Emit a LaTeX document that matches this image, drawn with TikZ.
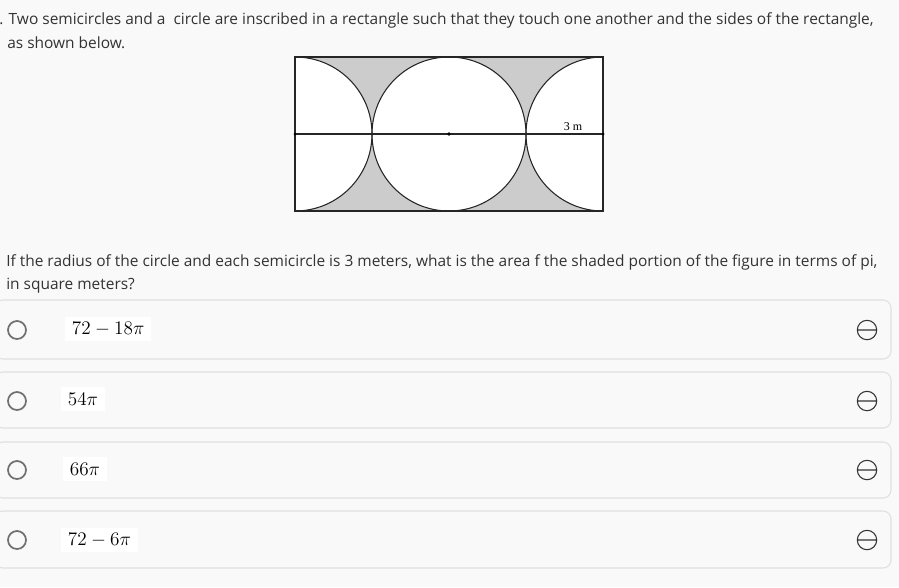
\documentclass[tikz,border=0pt]{standalone}
\usepackage{fontspec}
\setmainfont{Open Sans}
\newfontfamily\figfont{Liberation Serif}
\usetikzlibrary{positioning}
\definecolor{pagebg}{HTML}{F9F9F9}
\definecolor{inktext}{HTML}{333333}
\definecolor{areagray}{HTML}{CCCCCC}
\definecolor{boxline}{HTML}{E0E0E0}
\definecolor{radioline}{HTML}{707070}
\tikzset{
x=0.75pt, y=-0.75pt,
every node/.style={text=inktext},
question/.style={anchor=base west, inner sep=0pt, font=\fontsize{11.6}{14}\selectfont},
optbox/.style={draw=boxline, fill=pagebg, rounded corners=6pt, line width=0.8pt},
radio/.style={circle, draw=radioline, line width=1.3pt, minimum size=13.5pt, inner sep=0pt},
answer/.style={fill=white, anchor=west, inner xsep=5pt, inner ysep=4pt, text=black, font=\fontsize{15.5}{17}\selectfont},
minusbar/.style={draw=inktext, line width=0.8pt},
figline/.style={line width=0.8pt, draw=black!85},
}

\begin{document}
\begin{tikzpicture}

    \fill[pagebg] (0,0) rectangle (899,587);
    \useasboundingbox (0,0) rectangle (899,587);

    % question text
    \node[question] (q1) at (-1,24) {. Two semicircles and a\ \ circle are inscribed in a rectangle such that they touch one another and the sides of the rectangle,};
    \node[question] (q2) at (7,48) {as shown below.};
    \node[question] (q3) at (6,266) {If the radius of the circle and each semicircle is 3 meters, what is the area f the shaded portion of the figure in terms of pi,};
    \node[question] (q4) at (6,289) {in square meters?};

    % figure
    \coordinate (tl) at (295,57);
    \coordinate (br) at (603,211);
    \coordinate (lmid) at (295,134);
    \coordinate (ctr) at (449,134);
    \coordinate (rmid) at (603,134);
    \fill[areagray] (tl) rectangle (br);
    \begin{scope}
        \clip (tl) rectangle (br);
        \fill[white] (lmid) circle[radius=77];
        \fill[white] (ctr) circle[radius=77];
        \fill[white] (rmid) circle[radius=77];
        \draw[figline] (lmid) circle[radius=77];
        \draw[figline] (ctr) circle[radius=77];
        \draw[figline] (rmid) circle[radius=77];
    \end{scope}
    \draw[figline] (tl) rectangle (br);
    \draw[figline] (lmid) -- (ctr) -- (rmid);
    \fill (lmid) circle[radius=1.5];
    \fill (ctr) circle[radius=1.8];
    \fill (rmid) circle[radius=1.5];
    \node[font=\figfont\fontsize{9}{10}\selectfont, text=black, inner sep=0pt] (lbl) at (573,127) {3 m};

    % answer options
    \draw[optbox] (-5,300) rectangle (891,359);
    \draw[optbox] (-5,372) rectangle (891,428);
    \draw[optbox] (-5,442) rectangle (891,498);
    \draw[optbox] (-5,511) rectangle (891,568);

    \node[radio] (r1) at (17,330) {};
    \node[radio] (r2) at (17,401) {};
    \node[radio] (r3) at (17,470) {};
    \node[radio] (r4) at (17,540) {};

    \node[answer] (a1) at (65,329) {$72-18\pi$};
    \node[answer] (a2) at (61,399) {$54\pi$};
    \node[answer] (a3) at (63,469) {$66\pi$};
    \node[answer] (a4) at (61,540) {$72-6\pi$};

    % collapse icons
    \coordinate (d1) at (867,330);
    \coordinate (d2) at (867,401);
    \coordinate (d3) at (867,470);
    \coordinate (d4) at (867,540);
    \draw[minusbar] (d1) circle[radius=9.7] (d1) ++(-9.7,0) -- ++(19.4,0);
    \draw[minusbar] (d2) circle[radius=9.7] (d2) ++(-9.7,0) -- ++(19.4,0);
    \draw[minusbar] (d3) circle[radius=9.7] (d3) ++(-9.7,0) -- ++(19.4,0);
    \draw[minusbar] (d4) circle[radius=9.7] (d4) ++(-9.7,0) -- ++(19.4,0);

\end{tikzpicture}
\end{document}
